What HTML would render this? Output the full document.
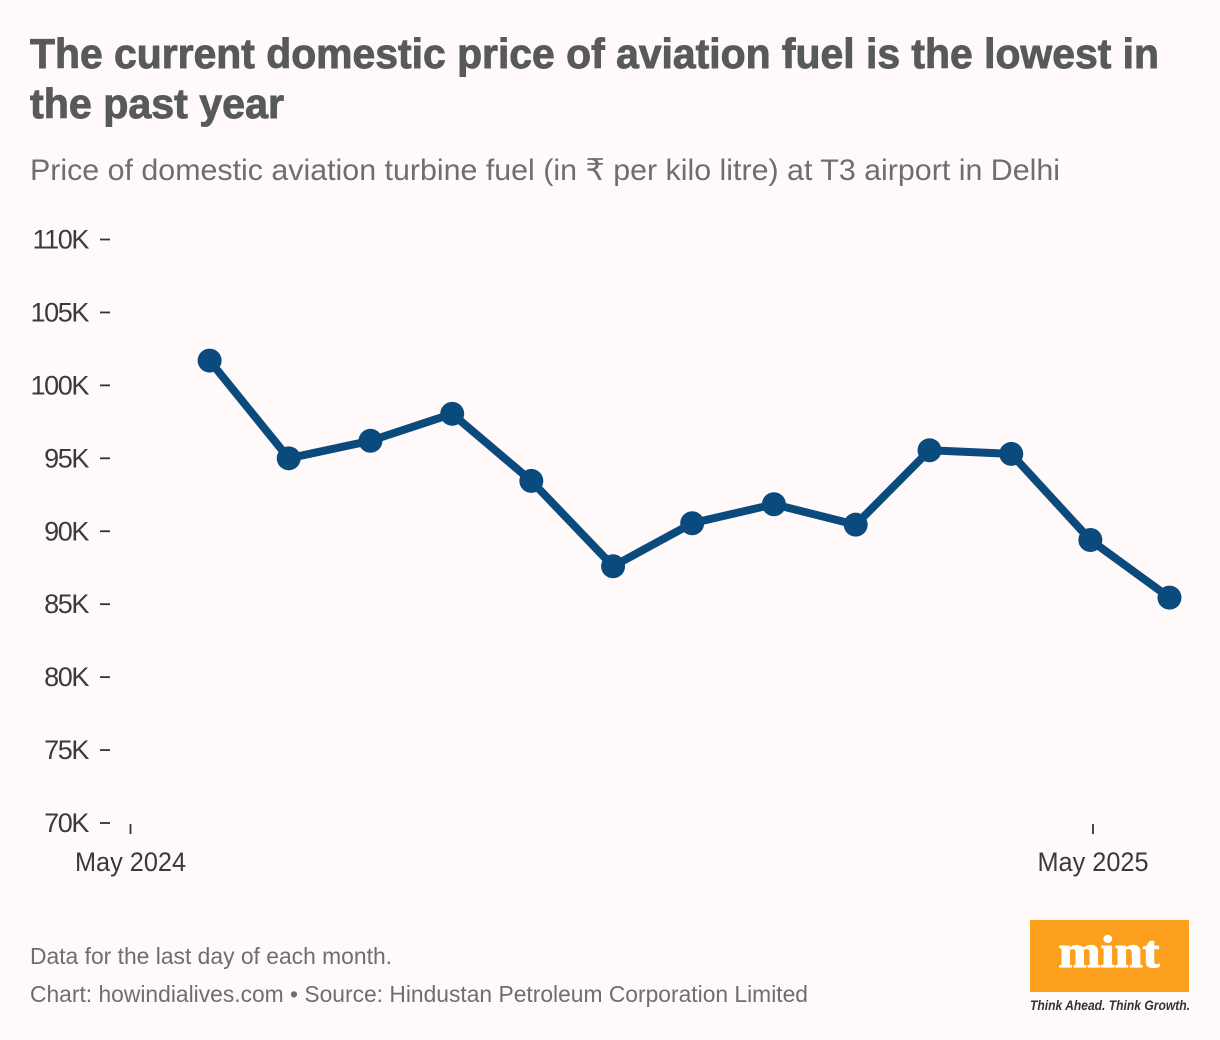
<!DOCTYPE html>
<html lang="en">
<head>
<meta charset="utf-8">
<title>Domestic aviation fuel price</title>
<style>
html,body{margin:0;padding:0;background:#fff9f9;}
svg{display:block;}
text{font-family:"Liberation Sans","DejaVu Sans",sans-serif;}
</style>
</head>
<body>
<svg id="chart" xmlns="http://www.w3.org/2000/svg" width="1220" height="1040" viewBox="0 0 1220 1040">
  <rect x="0" y="0" width="1220" height="1040" fill="#fff9f9"/>
  <text x="30" y="68" font-size="42" font-weight="700" fill="#58595b" stroke="#58595b" stroke-width="0.9" textLength="1129" lengthAdjust="spacingAndGlyphs">The current domestic price of aviation fuel is the lowest in</text>
  <text x="30" y="118" font-size="42" font-weight="700" fill="#58595b" stroke="#58595b" stroke-width="0.9" textLength="254" lengthAdjust="spacingAndGlyphs">the past year</text>
  <text x="30" y="180" font-size="30" fill="#6e6e72" textLength="1030" lengthAdjust="spacingAndGlyphs">Price of domestic aviation turbine fuel (in ₹ per kilo litre) at T3 airport in Delhi</text>
  <g id="y-axis"></g>
  <g id="x-axis"></g>
  <g id="series"></g>
  <text x="30" y="964" font-size="23" fill="#6e6e72" textLength="362" lengthAdjust="spacingAndGlyphs">Data for the last day of each month.</text>
  <text x="30" y="1002" font-size="23" fill="#6e6e72" textLength="778" lengthAdjust="spacingAndGlyphs">Chart: howindialives.com • Source: Hindustan Petroleum Corporation Limited</text>
  <g>
    <rect x="1030" y="920" width="159" height="72" fill="#fc9f1c"/>
    <text x="1109" y="967" text-anchor="middle" font-size="46" font-weight="700" fill="#ffffff" stroke="#ffffff" stroke-width="1.2" textLength="101" lengthAdjust="spacingAndGlyphs" style="font-family:'Liberation Serif',serif;">mint</text>
    <text x="1030" y="1010" font-size="14" font-style="italic" font-weight="700" fill="#333336" textLength="160" lengthAdjust="spacingAndGlyphs">Think Ahead. Think Growth.</text>
  </g>
</svg>
<script>
const yTickValues = [110, 105, 100, 95, 90, 85, 80, 75, 70];
const xTickDates = ['2024-05-01', '2025-05-01'];
const xTickLabels = ['May 2024', 'May 2025'];
const dates = ['2024-05-31', '2024-06-30', '2024-07-31', '2024-08-31', '2024-09-30', '2024-10-31', '2024-11-30', '2024-12-31', '2025-01-31', '2025-02-28', '2025-03-31', '2025-04-30', '2025-05-30'];
const prices = [101.7, 95.0, 96.2, 98.05, 93.45, 87.6, 90.55, 91.85, 90.45, 95.55, 95.3, 89.4, 85.45];

const NS = 'http://www.w3.org/2000/svg';
const xDomain = [Date.parse('2024-05-01'), Date.parse('2025-05-01')];
const xRange = [130.5, 1093];
const yDomain = [70, 110];
const yRange = [823, 239.5];
function xScale(dateText) {
  const t = Date.parse(dateText);
  return xRange[0] + (t - xDomain[0]) / (xDomain[1] - xDomain[0]) * (xRange[1] - xRange[0]);
}
function yScale(value) {
  return yRange[0] + (value - yDomain[0]) / (yDomain[1] - yDomain[0]) * (yRange[1] - yRange[0]);
}
function make(tag, attrs) {
  const el = document.createElementNS(NS, tag);
  Object.keys(attrs).forEach(function (k) { el.setAttribute(k, attrs[k]); });
  return el;
}
const yAxis = document.getElementById('y-axis');
yTickValues.forEach(function (v) {
  const y = yScale(v);
  const tick = make('line', { x1: 100, x2: 110, y1: y, y2: y, stroke: '#333333', 'stroke-width': 1.8 });
  
  
  yAxis.appendChild(tick);
  const label = make('text', { x: 88, y: y + 9, 'text-anchor': 'end', 'font-size': 27, fill: '#3a3a3a', 'letter-spacing': -1.4 });
  
  
  label.textContent = v + 'K';
  yAxis.appendChild(label);
});
const xAxis = document.getElementById('x-axis');
xTickDates.forEach(function (d, i) {
  const x = xScale(d);
  const tick = make('line', { x1: x, x2: x, y1: 824, y2: 834, stroke: '#333333', 'stroke-width': 1.8 });
  
  
  xAxis.appendChild(tick);
  const label = make('text', { x: x, y: 871, 'text-anchor': 'middle', 'font-size': 27, fill: '#3a3a3a', textLength: 111, lengthAdjust: 'spacingAndGlyphs' });
  
  
  label.textContent = xTickLabels[i];
  xAxis.appendChild(label);
});
const series = document.getElementById('series');
const pts = dates.map(function (d, i) { return xScale(d).toFixed(1) + ',' + yScale(prices[i]).toFixed(1); }).join(' ');
const line = make('polyline', { points: pts, fill: 'none', stroke: '#0b4a7c', 'stroke-width': 8, 'stroke-linejoin': 'round', 'stroke-linecap': 'round' });


series.appendChild(line);
dates.forEach(function (d, i) {
  const dot = make('circle', { cx: xScale(d), cy: yScale(prices[i]), r: 12, fill: '#0b4a7c' });
  
  
  series.appendChild(dot);
});
</script>
</body>
</html>
